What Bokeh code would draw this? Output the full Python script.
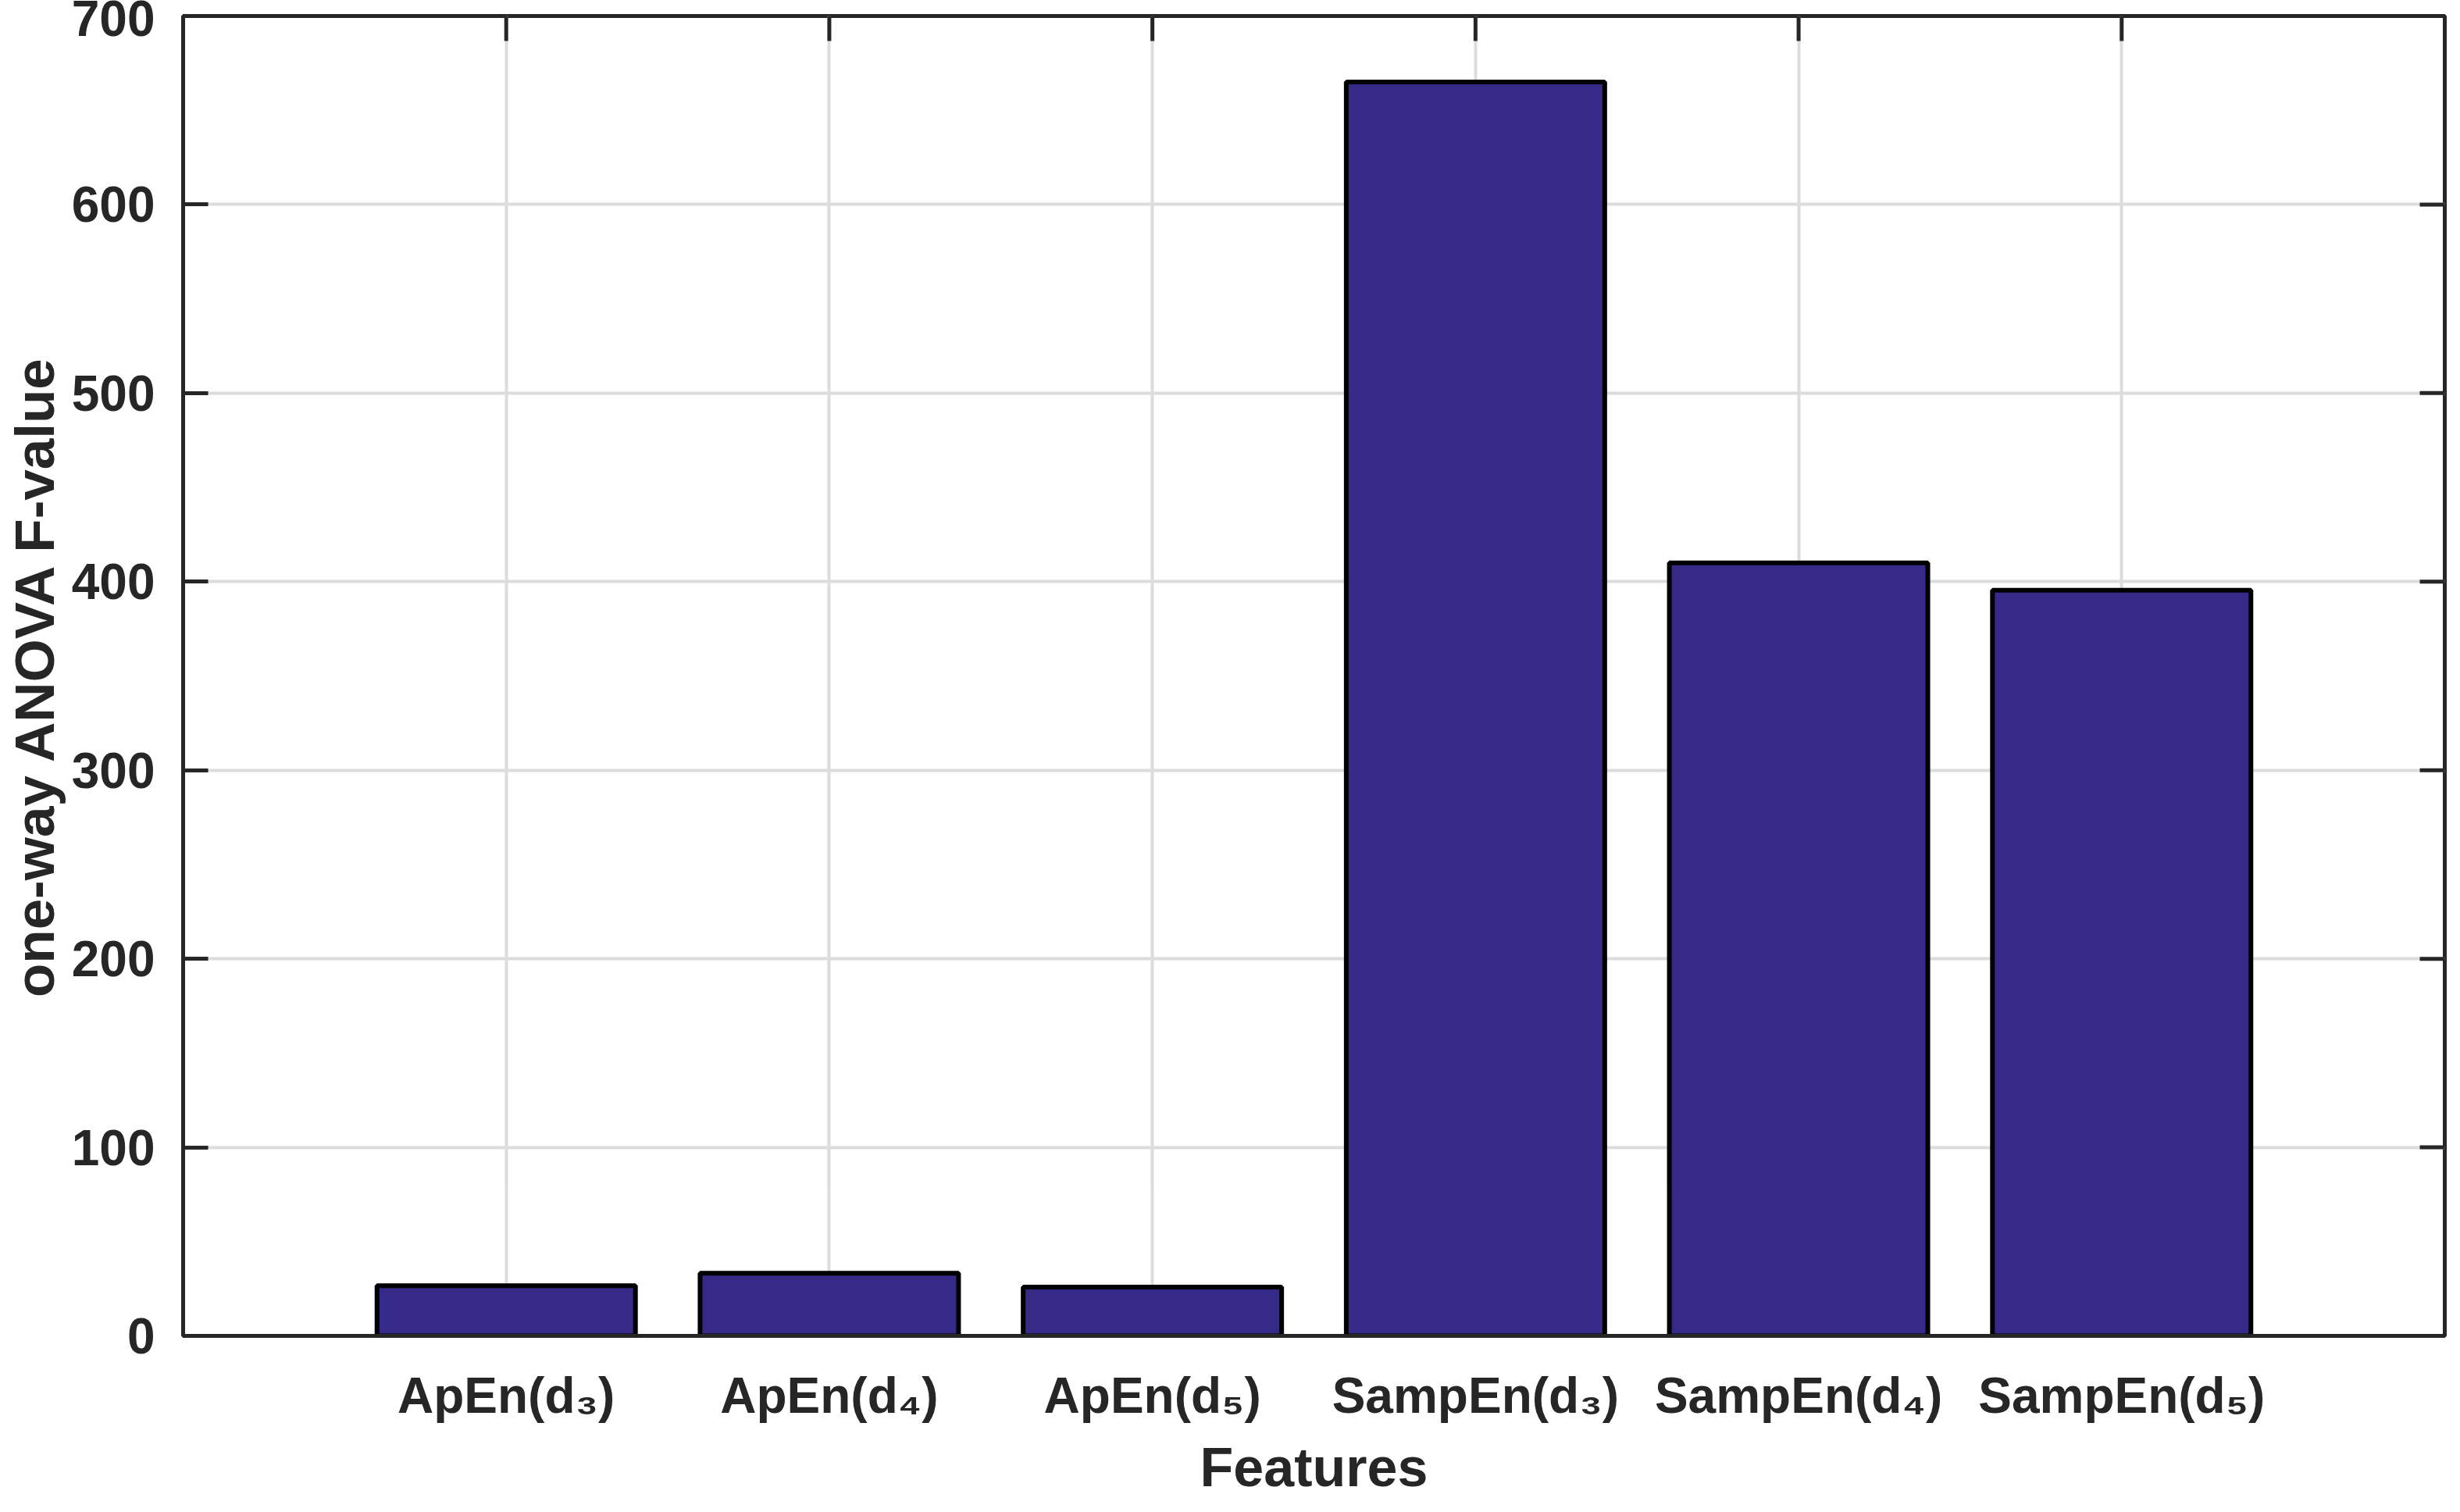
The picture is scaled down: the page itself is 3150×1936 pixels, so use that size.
import math
from bokeh.plotting import figure
from bokeh.models import Range1d, FixedTicker, ColumnDataSource
from bokeh.embed import file_html
from bokeh.resources import INLINE

# ---- data ----
categories = ["ApEn(d\u2083)", "ApEn(d\u2084)", "ApEn(d\u2085)",
              "SampEn(d\u2083)", "SampEn(d\u2084)", "SampEn(d\u2085)"]
f_values = [26.6, 33.2, 25.9, 665.0, 410.0, 395.5]
y_ticks = [0, 100, 200, 300, 400, 500, 600, 700]
x_label = "Features"
y_label = "one-way ANOVA F-value"

positions = list(range(1, len(categories) + 1))
x_max = len(categories) + 1
y_max = 700

FONT = "Liberation Sans"
AX = "#262626"
BAR = "#352a87"

p = figure(width=3134, height=1920,
           x_range=Range1d(0, x_max), y_range=Range1d(0, y_max),
           output_backend="svg", toolbar_location=None,
           min_border_left=234, min_border_right=4,
           min_border_top=20, min_border_bottom=210)
p.background_fill_color = "white"
p.border_fill_color = "white"
p.outline_line_color = AX
p.outline_line_width = 5

# grid
p.xgrid.ticker = FixedTicker(ticks=positions)
p.ygrid.ticker = FixedTicker(ticks=y_ticks)
p.grid.grid_line_color = "#dcdcdc"
p.grid.grid_line_width = 4

src = ColumnDataSource(dict(x=positions, top=f_values, cat=categories))
p.vbar(x="x", top="top", bottom=0, width=0.8, source=src,
       fill_color=BAR, line_color="black", line_width=6)

# box ticks on top and right (inside, like the bottom/left ones)
p.ray(x=positions, y=[y_max] * len(positions), length=32, length_units="screen",
      angle=-math.pi / 2, line_color=AX, line_width=5)
p.ray(x=[x_max] * len(y_ticks), y=y_ticks, length=32, length_units="screen",
      angle=math.pi, line_color=AX, line_width=5)

# bottom axis
xa = p.xaxis[0]
xa.ticker = FixedTicker(ticks=positions)
xa.major_label_overrides = {pos: c for pos, c in zip(positions, categories)}
xa.major_tick_in = 0
xa.major_tick_out = 0
xa.minor_tick_line_color = None
xa.axis_line_color = AX
xa.axis_line_width = 5
xa.major_label_text_font = FONT
xa.major_label_text_font_style = "bold"
xa.major_label_text_font_size = "64px"
xa.major_label_text_color = AX
xa.major_label_standoff = 40
xa.axis_label = x_label
xa.axis_label_text_font = FONT
xa.axis_label_text_font_style = "bold"
xa.axis_label_text_font_size = "70px"
xa.axis_label_text_color = AX
xa.axis_label_standoff = 14

# left axis
ya = p.yaxis[0]
ya.ticker = FixedTicker(ticks=y_ticks)
ya.major_tick_in = 32
ya.major_tick_out = 0
ya.major_tick_line_color = AX
ya.major_tick_line_width = 5
ya.minor_tick_line_color = None
ya.axis_line_color = AX
ya.axis_line_width = 5
ya.major_label_text_font = FONT
ya.major_label_text_font_style = "bold"
ya.major_label_text_font_size = "64px"
ya.major_label_text_color = AX
ya.major_label_standoff = 36
ya.axis_label = y_label
ya.axis_label_text_font = FONT
ya.axis_label_text_font_style = "bold"
ya.axis_label_text_font_size = "71px"
ya.axis_label_text_color = AX
ya.axis_label_standoff = 5

open("out.html", "w").write(file_html(p, INLINE))
